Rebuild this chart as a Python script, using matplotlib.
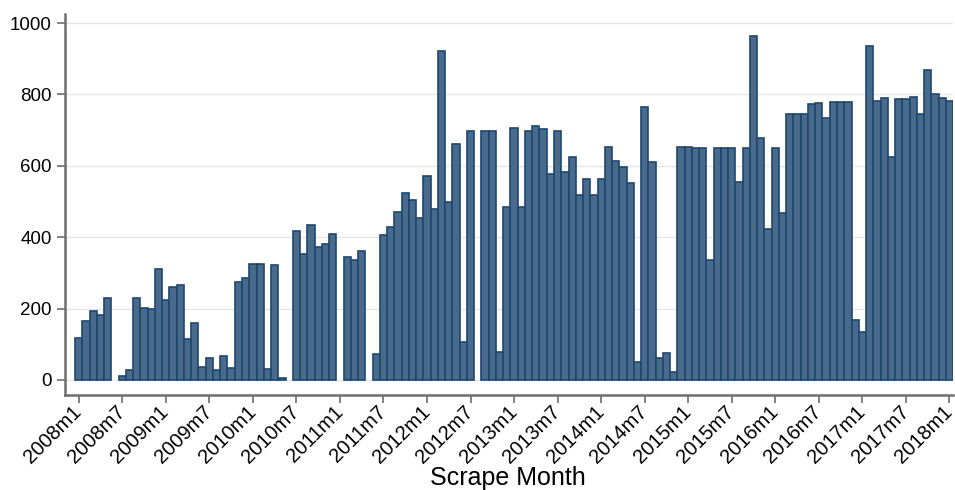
import matplotlib
matplotlib.use("Agg")
import matplotlib.pyplot as plt
import numpy as np

plt.rcParams["font.family"] = ["Liberation Sans", "DejaVu Sans"]

# monthly listing counts, 2008m1 .. 2018m1 (None = no scrape that month)
counts = [
    117, 164, 192, 182, 229, None, 11, 27, 229, 203, 198, 310,      # 2008
    224, 260, 265, 114, 160, 35, 61, 27, 66, 33, 275, 285,          # 2009
    326, 324, 32, 322, 5, None, 417, 353, 433, 372, 380, 408,       # 2010
    None, 344, 335, 360, None, 72, 407, 428, 470, 523, 503, 455,    # 2011
    572, 478, 921, 500, 660, 106, 697, None, 697, 697, 78, 484,     # 2012
    705, 484, 699, 713, 703, 577, 697, 583, 624, 517, 562, 517,     # 2013
    562, 653, 613, 596, 551, 50, 764, 611, 62, 75, 21, 653,         # 2014
    653, 650, 650, 336, 650, 650, 650, 554, 650, 964, 677, 422,     # 2015
    650, 469, 744, 744, 745, 772, 775, 733, 778, 780, 778, 167,     # 2016
    133, 937, 783, 789, 625, 786, 788, 794, 744, 870, 800, 790,     # 2017
    783,                                                            # 2018
]
start_year = 2008
tick_months = list(range(0, 121, 6))
tick_labels = [f"{start_year + m // 12}m{m % 12 + 1}" for m in tick_months]

months = [i for i, v in enumerate(counts) if v is not None]
values = [v for v in counts if v is not None]

FILL = "#496a8b"
EDGE = "#1d4872"
SPINE = "#6e6e6e"

fig = plt.figure(figsize=(9.55, 4.9), dpi=100)
ax = fig.add_axes([0.068, 0.194, 0.93, 0.777])

ax.bar(months, values, width=1.0, color=FILL, edgecolor=EDGE, linewidth=1.2, zorder=3)

ax.set_xlim(-1.9, 120.5)
ax.set_ylim(-42, 1025)
ax.set_yticks(np.arange(0, 1001, 200))
ax.yaxis.grid(True, color="#e6e6e6", linewidth=1.0, zorder=0)
ax.set_xticks(tick_months)
ax.set_xticklabels(tick_labels, rotation=45, ha="right", va="center",
                   rotation_mode="anchor", fontsize=14.5)

for side in ("top", "right"):
    ax.spines[side].set_visible(False)
for side in ("left", "bottom"):
    ax.spines[side].set_color(SPINE)
    ax.spines[side].set_linewidth(1.8)

ax.tick_params(axis="both", direction="out", length=6, width=1.2, color=SPINE,
               labelcolor="black")
ax.tick_params(axis="y", labelsize=13.5)
ax.tick_params(axis="x", pad=4)

fig.text(0.532, 0.01, "Scrape Month", fontsize=18, ha="center", va="baseline")

fig.savefig("out.png", dpi=100, facecolor="white")
